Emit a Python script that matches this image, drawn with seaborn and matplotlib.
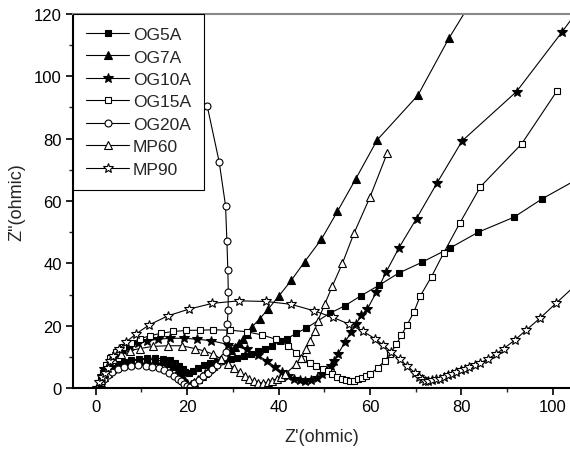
import matplotlib
matplotlib.use("Agg")
import matplotlib.pyplot as plt
import seaborn as sns
from matplotlib.ticker import MultipleLocator

# impedance spectra (Z' , Z'')
og5a_x = [0.8, 1.2, 1.8, 2.6, 3.6, 4.8, 6.2, 7.8, 9.5, 11.2, 13.0, 14.7, 16.2, 17.4, 18.3, 19.0, 19.6, 20.3,
          21.2, 22.3, 23.6, 25.0, 26.5, 28.0, 29.5, 31.0, 32.5, 34.0, 35.5, 37.0, 38.5, 40.3, 41.9, 43.9, 46.1,
          51.2, 54.5, 58.0, 62.0, 66.3, 71.3, 77.6, 83.7, 91.5, 97.7, 106.0]
og5a_y = [0.0, 2.0, 3.8, 5.3, 6.6, 7.6, 8.4, 9.0, 9.4, 9.6, 9.6, 9.4, 8.9, 8.0, 7.0, 6.0, 5.2, 4.8,
          5.6, 6.6, 7.4, 8.0, 8.5, 8.9, 9.3, 9.8, 10.3, 11.0, 11.8, 12.6, 13.5, 15.2, 15.9, 17.6, 19.3,
          24.0, 26.4, 29.6, 33.0, 36.9, 40.3, 45.0, 50.0, 54.8, 60.7, 67.5]

og7a_x = [0.8, 1.2, 1.8, 2.6, 3.6, 4.8, 6.2, 7.8, 9.5, 11.2, 12.9, 14.5, 15.9, 17.0, 17.9, 18.7, 19.4, 20.0,
          20.8, 21.6, 22.4, 23.2, 24.0, 24.8, 25.6, 26.4, 27.2, 28.0, 28.8, 29.6, 30.4, 31.3, 32.2, 33.1, 34.1,
          35.9, 37.7, 40.1, 42.8, 45.7, 49.4, 52.9, 56.9, 61.6, 70.5, 77.3, 83.5]
og7a_y = [0.0, 1.8, 3.5, 5.0, 6.3, 7.3, 8.1, 8.7, 9.1, 9.2, 9.1, 8.7, 8.0, 7.0, 5.8, 4.4, 3.0, 1.5,
          1.2, 2.0, 3.0, 4.0, 5.0, 6.0, 7.0, 8.0, 9.0, 10.0, 11.1, 12.2, 13.3, 14.6, 15.9, 17.4, 19.5,
          22.3, 25.3, 29.6, 34.6, 40.5, 47.8, 56.7, 67.1, 79.6, 93.9, 112.2, 127.0]

og10a_x = [0.6, 0.9, 1.3, 1.9, 2.6, 3.5, 4.6, 5.9, 7.4, 9.2, 11.3, 13.7, 16.3, 19.2, 22.2, 25.3, 29.0, 33.0,
           35.5, 37.5, 39.2, 40.7, 42.0, 43.3, 44.6, 45.9, 47.2, 48.4, 49.5, 50.5, 51.4, 52.2, 53.0, 54.5,
           55.9, 57.0, 58.1, 59.4, 61.4, 63.6, 66.4, 70.2, 74.7, 80.2, 92.1, 102.0, 110.0]
og10a_y = [0.0, 2.0, 4.0, 6.0, 7.8, 9.5, 11.0, 12.3, 13.4, 14.4, 15.2, 15.7, 16.0, 16.0, 15.7, 15.2, 14.0, 12.5,
           10.5, 8.7, 6.9, 5.3, 4.0, 3.0, 2.5, 2.4, 2.7, 3.4, 4.4, 5.6, 7.0, 8.6, 10.9, 14.7,
           17.9, 20.5, 23.4, 25.3, 30.7, 37.4, 45.1, 54.4, 65.8, 79.3, 95.1, 114.1, 130.0]

og15a_x = [0.8, 1.1, 1.6, 2.3, 3.2, 4.4, 5.9, 7.6, 9.6, 11.8, 14.3, 17.0, 19.8, 22.7, 25.7, 29.3, 33.0, 36.3,
           39.4, 42.1, 43.9, 45.4, 46.8, 48.3, 49.7, 50.8, 51.8, 52.8, 53.8, 54.8, 55.6, 56.5, 57.4, 58.3,
           59.2, 60.0, 61.8, 63.2, 64.5, 65.8, 66.9, 68.1, 69.6, 71.0, 73.5, 76.2, 79.7, 84.2, 93.2, 101.0]
og15a_y = [0.0, 2.5, 5.0, 7.5, 9.6, 11.5, 13.2, 14.6, 15.8, 16.8, 17.6, 18.2, 18.5, 18.6, 18.7, 18.6, 18.1, 17.1,
           15.7, 13.6, 11.4, 9.5, 8.2, 7.2, 6.1, 5.6, 4.6, 3.7, 3.0, 2.5, 2.3, 2.4, 2.8, 3.4,
           4.0, 4.5, 6.6, 8.8, 11.1, 14.1, 17.0, 20.2, 24.3, 29.5, 35.8, 43.5, 53.0, 64.6, 78.3, 95.4]

og20a_x = [0.8, 1.2, 1.8, 2.6, 3.6, 4.8, 6.2, 7.7, 9.3, 10.9, 12.4, 13.8, 15.0, 16.1, 17.1, 17.9, 18.7, 19.4,
           20.0, 20.6, 21.5, 22.5, 23.5, 24.5, 25.5, 26.5, 27.3, 28.0, 28.5, 28.6, 28.6, 28.8, 28.95, 29.0,
           28.9, 28.7, 28.4, 27.0, 24.4]
og20a_y = [0.0, 1.5, 3.0, 4.3, 5.3, 6.1, 6.7, 7.1, 7.3, 7.2, 6.9, 6.4, 5.7, 4.9, 4.0, 3.1, 2.2, 1.3,
           0.6, 0.4, 1.5, 2.7, 3.8, 5.0, 6.2, 7.5, 8.8, 10.0, 11.5, 14.1, 17.3, 20.6, 25.0, 30.9,
           38.0, 47.1, 58.5, 72.6, 90.4]

mp60_x = [0.8, 1.2, 1.8, 2.7, 3.8, 5.6, 7.4, 9.6, 12.5, 15.8, 18.8, 21.7, 23.6, 25.7, 27.5, 29.0, 30.3, 31.5,
          32.6, 33.6, 34.6, 35.6, 36.6, 37.6, 38.6, 39.6, 40.5, 41.4, 43.9, 45.0, 46.1, 46.8, 47.9, 48.6,
          50.1, 51.8, 54.0, 56.5, 60.0, 63.8]
mp60_y = [0.0, 2.5, 5.0, 7.3, 9.3, 10.9, 12.0, 12.7, 13.4, 13.6, 13.6, 12.7, 12.0, 10.9, 9.3, 7.8, 6.4, 5.1,
          4.0, 3.0, 2.2, 1.8, 1.7, 1.9, 2.4, 3.0, 3.7, 4.5, 7.7, 9.8, 12.5, 15.2, 18.4, 21.6,
          26.9, 32.8, 40.1, 49.6, 61.2, 75.4]

mp90_x = [0.3, 0.8, 1.3, 2.0, 2.6, 3.1, 3.8, 5.1, 6.7, 8.9, 11.7, 15.8, 20.3, 25.5, 31.3, 37.2, 42.7, 47.8,
          51.9, 55.5, 58.5, 61.1, 62.9, 64.7, 66.5, 68.1, 69.8, 70.8, 71.5, 72.0, 72.8, 73.6, 74.4, 75.3,
          76.2, 77.1, 78.0, 78.9, 79.9, 80.9, 81.8, 82.9, 84.0, 85.8, 87.5, 89.3, 91.7, 94.2, 97.2, 100.8, 105.0]
mp90_y = [0.0, 2.0, 3.5, 4.8, 6.5, 8.8, 10.2, 12.5, 14.9, 17.5, 20.3, 23.2, 25.3, 27.2, 28.0, 27.8, 26.9, 24.8,
          22.7, 20.5, 18.2, 15.9, 13.8, 11.6, 9.3, 7.2, 5.0, 3.7, 2.8, 2.3, 2.2, 2.5, 2.8, 3.1,
          3.6, 4.1, 4.7, 5.2, 5.8, 6.3, 6.8, 7.4, 8.0, 9.3, 10.9, 12.7, 15.4, 18.6, 22.4, 27.3, 33.0]

series = [
    ("OG5A", og5a_x, og5a_y, "s", "black", 5.0),
    ("OG7A", og7a_x, og7a_y, "^", "black", 6.0),
    ("OG10A", og10a_x, og10a_y, "*", "black", 7.5),
    ("OG15A", og15a_x, og15a_y, "s", "white", 5.0),
    ("OG20A", og20a_x, og20a_y, "o", "white", 5.0),
    ("MP60", mp60_x, mp60_y, "^", "white", 6.0),
    ("MP90", mp90_x, mp90_y, "*", "white", 7.5),
]

sns.set_theme(style="ticks")
plt.rcParams["font.family"] = ["Liberation Sans", "DejaVu Sans"]

fig = plt.figure(figsize=(5.7, 4.52), dpi=100)
ax = fig.add_axes([0.128, 0.139, 0.872, 0.828])

for name, xs, ys, mk, face, ms in series:
    sns.lineplot(x=xs, y=ys, sort=False, ax=ax, color="black", linewidth=0.8,
                 marker=mk, markersize=ms, markerfacecolor=face, markeredgecolor="black",
                 markeredgewidth=0.8, label=name)

ax.set_xlim(-5, 103.8)
ax.set_ylim(0, 120)
ax.xaxis.set_major_locator(MultipleLocator(20))
ax.xaxis.set_minor_locator(MultipleLocator(10))
ax.yaxis.set_major_locator(MultipleLocator(20))
ax.yaxis.set_minor_locator(MultipleLocator(10))
ax.tick_params(which="major", direction="out", length=5, width=1.2, labelsize=12, colors="black", pad=3)
ax.tick_params(which="minor", direction="out", length=3, width=1.0)
for side in ["left", "bottom"]:
    ax.spines[side].set_color("black")
    ax.spines[side].set_linewidth(1.5)
ax.spines["right"].set_visible(False)
ax.spines["top"].set_color("#888888")
ax.spines["top"].set_linewidth(1.5)

ax.set_xlabel("Z'(ohmic)", fontsize=13, labelpad=10)
ax.set_ylabel('Z"(ohmic)', fontsize=13, labelpad=6)

leg = ax.legend(loc="upper left", borderaxespad=0, fontsize=12.5, frameon=True, fancybox=False,
                edgecolor="black", framealpha=1, handlelength=2.5, labelspacing=0.42,
                handletextpad=0.2, borderpad=0.75)
leg.get_frame().set_linewidth(0.8)

fig.savefig("out.png", dpi=100)
